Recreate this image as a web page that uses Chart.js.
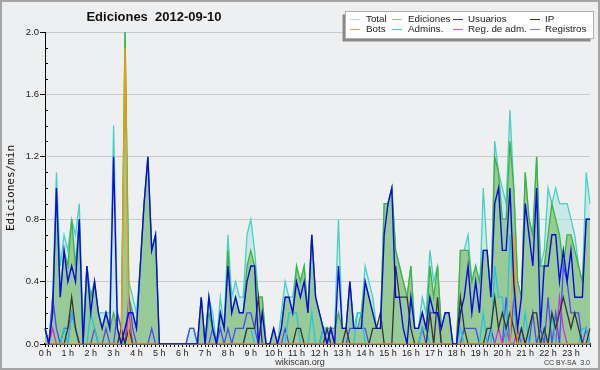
<!DOCTYPE html>
<html>
<head>
<meta charset="utf-8">
<script src="https://cdn.jsdelivr.net/npm/chart.js@4.4.1/dist/chart.umd.min.js"></script>
<style>
html,body{margin:0;padding:0;background:#eeeff1;}
canvas{display:block;}
</style>
</head>
<body>
<canvas id="c" width="600" height="370"></canvas>
<script>
// Hour tick labels (one slot every 10 minutes, 6 slots per hour)
const HOURS = ["0 h","1 h","2 h","3 h","4 h","5 h","6 h","7 h","8 h","9 h","10 h","11 h",
               "12 h","13 h","14 h","15 h","16 h","17 h","18 h","19 h","20 h","21 h","22 h","23 h"];

// Series values (edits/min), rows = hours, 6 values per hour
const total = [
 0.1,0.0,0.3,1.1,0.5,0.7,  0.6,0.8,0.7,0.9,0.1,0.5,  0.3,0.4,0.2,0.2,0.2,0.2,  1.4,0.2,0.1,2.0,0.4,0.3,
 0.2,0.5,0.9,1.2,0.6,0.7,  0,0,0,0,0,0,              0,0,0.1,0.1,0,0.3,        0,0.3,0.2,0,0.3,0.1,
 0.7,0.3,0.4,0.3,0.3,0.7,  0.8,0.6,0.3,0.3,0,0,      0.1,0,0.2,0.4,0.3,0.3,    0.5,0.4,0.5,0.2,0.7,0.3,
 0.2,0.1,0.1,0.1,0.1,0.8,  0.1,0.1,0.4,0.1,0.2,0.2,  0.5,0.4,0.3,0.1,0.1,0.9,  0.9,1.0,0.6,0.5,0.4,0.3,
 0.5,0.1,0.1,0.3,0.2,0.6,  0.4,0.5,0.1,0.2,0.2,0,    0,0.6,0.6,0.7,0.4,0.5,    0.3,1.0,0.6,0.3,1.3,1.1,
 1.0,0.9,1.5,1.0,0.4,0.3,  1.1,0.8,0.7,1.2,0.5,0.6,  1.0,0.9,1.0,0.9,0.9,0.9,  0.8,0.7,0.5,0.4,1.1,0.9
];
const ediciones = [
 0.1,0,0.2,1.0,0.3,0.6,    0.5,0.8,0.5,0.8,0,0.5,    0.3,0.4,0.2,0.1,0.2,0.1,  0.2,0.1,0,2.0,0.3,0.2,
 0.1,0.5,0.9,1.2,0.6,0.7,  0,0,0,0,0,0,              0,0,0,0,0,0.3,            0,0.2,0.1,0,0.2,0.1,
 0.6,0.2,0.3,0.2,0.2,0.5,  0.6,0.5,0.3,0.3,0,0,      0.1,0,0.1,0.3,0.3,0.2,    0.5,0.4,0.5,0.2,0.7,0.3,
 0.2,0.1,0.1,0.1,0.1,0.2,  0.1,0.1,0.4,0.1,0.1,0.2,  0.4,0.3,0.2,0.1,0.1,0.9,  0.9,1.0,0.6,0.5,0.4,0.3,
 0.5,0.1,0.1,0.2,0.1,0.5,  0.3,0.5,0.1,0.2,0.2,0,    0,0.6,0.6,0.6,0.4,0.5,    0.4,0.6,0.6,0.3,1.2,1.1,
 0.8,0.8,1.3,1.0,0.4,0.3,  1.1,0.8,0.7,1.2,0.5,0.5,  0.7,0.9,0.8,0.7,0.5,0.7,  0.7,0.6,0.5,0.4,0.8,0.8
];
const usuarios = [
 0.1,0,0.2,1.0,0.3,0.6,    0.4,0.5,0.4,0.8,0,0.5,    0.2,0.4,0.2,0.1,0.2,0.1,  1.2,0.1,0,0.1,0.2,0.2,
 0.1,0.5,0.9,1.2,0.6,0.7,  0,0,0,0,0,0,              0,0,0,0,0,0.3,            0,0.3,0.1,0,0.2,0.1,
 0.5,0.2,0.3,0.2,0.2,0.4,  0.5,0.5,0,0.2,0,0,        0.1,0,0.1,0.3,0.3,0.2,    0.4,0.3,0.4,0.2,0.7,0.3,
 0.2,0.1,0,0.1,0,0.5,      0.1,0.1,0.4,0.1,0.1,0.1,  0.4,0.3,0.2,0.1,0.1,0.7,  0.9,1.0,0.3,0.3,0.1,0,
 0.3,0.1,0.1,0.2,0.1,0.3,  0.2,0.2,0.1,0.2,0.2,0,    0,0.2,0.3,0.5,0.2,0.4,    0.2,0.6,0.6,0.3,0.9,1.0,
 0.6,0.6,1.0,0.4,0.1,0.3,  0.9,0.7,0.5,1.0,0.1,0.5,  0.5,0.7,0.7,0.4,0.6,0.4,  0.6,0.3,0.3,0.3,0.8,0.8
];
const ip = [
 0,0,0,0,0,0,  0.1,0.3,0.1,0,0,0,  0,0,0,0,0,0,  0,0,0.1,0,0.1,0,
 0,0,0,0,0,0,  0,0,0,0,0,0,        0,0,0,0,0,0,  0,0,0,0,0,0,
 0,0,0,0,0,0.1,  0.1,0.1,0.3,0,0,0,  0,0,0,0,0,0,  0.1,0.1,0,0,0,0,
 0,0,0.1,0,0,0,  0,0.1,0,0,0,0,  0,0,0.1,0.1,0.2,0,  0,0,0.5,0.3,0.3,0.3,
 0.1,0,0,0,0,0.2,  0,0.3,0,0,0,0,  0,0.3,0.1,0,0,0,  0,0,0.1,0.1,0.3,0.1,
 0.2,0.1,0.2,0.1,0,0.1,  0,0.1,0.2,0.2,0,0.1,  0,0.2,0.1,0.2,0.3,0.2,  0.1,0.2,0.1,0,0,0.1
];
const bots = [
 0,0,0,0,0,0,  0,0,0,0,0,0,  0,0,0,0,0,0,  0,0,0,1.9,0,0,
 0,0,0,0,0,0,  0,0,0,0,0,0,  0,0,0,0,0,0,  0,0,0,0,0,0,
 0,0,0,0,0,0,  0,0,0,0,0,0,  0,0,0,0,0,0,  0,0,0,0,0,0,
 0,0,0,0,0,0,  0,0,0,0,0,0,  0,0,0,0,0,0,  0,0,0,0,0,0,
 0,0,0,0,0,0,  0,0,0,0,0,0,  0,0,0,0,0,0,  0,0,0,0,0,0,
 0,0,0,0.7,0,0,  0,0,0,0,0,0,  0,0,0,0,0,0,  0,0,0,0,0,0
];
const admins = [
 0,0,0,0,0,0.1,  0,0.2,0.1,0,0,0,  0.2,0.1,0,0,0,0,  0,0,0,0,0,0,
 0,0,0,0,0,0,  0,0,0,0,0,0,  0,0,0,0,0,0,  0,0.3,0.1,0,0,0,
 0,0,0,0,0,0.1,  0.1,0,0,0,0,0,  0,0,0,0,0.2,0.2,  0.2,0,0,0,0.2,0,
 0,0.1,0.1,0,0,0,  0,0,0,0,0.2,0.2,  0,0,0,0,0,0,  0,0,0,0,0,0,
 0,0,0,0.1,0.1,0,  0,0,0,0,0,0,  0,0.1,0,0,0,0,  0,0.2,0,0,0.5,0.3,
 0.3,0,0.7,0.3,0,0,  0.2,0,0,0,0,0.1,  0,0.2,0,0,0,0,  0,0,0,0.1,0.1,0
];
const regAdm = [
 0,0,0.1,0,0,0,  0,0.2,0.1,0,0,0,  0,0,0,0,0,0,  0,0,0,0,0.2,0,
 0,0,0,0,0,0,  0,0,0,0,0,0,  0,0,0,0,0,0,  0,0,0,0,0,0,
 0,0,0,0,0,0,  0,0,0,0,0,0,  0,0,0,0,0,0,  0,0,0,0,0,0,
 0,0,0,0,0,0,  0,0,0,0,0,0,  0,0,0,0,0,0,  0,0,0,0,0,0,
 0,0,0,0,0,0,  0,0,0,0,0,0,  0,0,0,0,0,0,  0,0,0,0,0,0.1,
 0,0.1,0,0,0.1,0,  0,0,0,0,0,0,  0,0,0,0.3,0.1,0,  0,0,0,0,0,0
];
const registros = [
 0.1,0,0.3,0.1,0,0.1,  0.1,0.2,0.1,0,0,0,  0,0.1,0,0,0.1,0,  0,0.2,0.1,0,0.3,0.1,
 0,0,0,0,0.1,0,  0,0,0,0,0,0,  0,0,0.1,0.1,0,0,  0,0,0.1,0,0.1,0,
 0.1,0,0.1,0.1,0.1,0.2,  0.2,0.1,0,0,0,0,  0,0,0,0.1,0,0,  0,0,0,0,0,0,
 0,0.1,0,0.1,0,0,  0,0,0.1,0.1,0.1,0.1,  0.1,0,0,0,0,0,  0,0,0,0,0,0,
 0,0,0,0.1,0,0.2,  0.2,0.2,0,0,0,0,  0,0,0.1,0.1,0.1,0.1,  0,0,0,0.1,0,0,
 0,0.3,0,0.3,0,0.1,  0,0,0.2,0,0.1,0,  0.3,0,0.2,0,0.5,0.4,  0.2,0.2,0.2,0,0.1,0
];

// Category slots: one per 10 minutes
const SLOTS = [];
HOURS.forEach(h => { for (let k = 0; k < 6; k++) SLOTS.push(h + (k ? ' ' + k + '0' : '')); });

const COLORS = {
  total: '#46d0c6', totalFill: 'rgba(178,226,226,0.6)',
  ediciones: '#3cb43c', edFill: '#98ca98',
  usuarios: '#0a0ae0', ip: '#333333', bots: '#ff9900',
  admins: '#22c6dc', regAdm: '#cc33cc', registros: '#4a4af2'
};
const LEGEND_SWATCH = {
  total: '#a6e2de', ediciones: '#8fd08f', usuarios: '#3a3ad8', ip: '#333333',
  bots: '#f5a040', admins: '#44c8dc', regAdm: '#cc55dd', registros: '#7a7ae6'
};

const bgPlugin = {
  id: 'bg',
  beforeDraw(chart) {
    const ctx = chart.ctx;
    ctx.save();
    ctx.fillStyle = '#eeeff1';
    ctx.fillRect(0, 0, chart.width, chart.height);
    ctx.strokeStyle = '#a4a4a4';
    ctx.lineWidth = 2;
    ctx.strokeRect(1, 1, chart.width - 2, chart.height - 2);
    ctx.restore();
  }
};

const LEGEND_ITEMS = [
  ['Total', LEGEND_SWATCH.total], ['Ediciones', LEGEND_SWATCH.ediciones], ['Usuarios', LEGEND_SWATCH.usuarios], ['IP', LEGEND_SWATCH.ip],
  ['Bots', LEGEND_SWATCH.bots], ['Admins.', LEGEND_SWATCH.admins], ['Reg. de adm.', LEGEND_SWATCH.regAdm], ['Registros', LEGEND_SWATCH.registros]
];

const decorPlugin = {
  id: 'decor',
  afterDraw(chart) {
    const ctx = chart.ctx;
    const ys = chart.scales.y, area = chart.chartArea;
    ctx.save();
    // minor ticks on the y axis (inside the plot)
    ctx.strokeStyle = '#000';
    ctx.lineWidth = 1;
    ctx.beginPath();
    ys.ticks.forEach(t => {
      if (Math.round(t.value * 10) % 4 !== 0) {
        const y = Math.round(ys.getPixelForValue(t.value)) + 0.5;
        ctx.moveTo(area.left, y);
        ctx.lineTo(area.left + 3, y);
      }
    });
    ctx.stroke();
    // title
    ctx.fillStyle = '#111';
    ctx.font = 'bold 13px "Liberation Sans", Arial, sans-serif';
    ctx.textAlign = 'center';
    ctx.textBaseline = 'alphabetic';
    ctx.fillText('Ediciones  2012-09-10', 154, 21);
    // legend box with shadow
    ctx.fillStyle = '#8a8a8a';
    ctx.fillRect(342.5, 14.5, 248, 27);
    ctx.fillStyle = '#ffffff';
    ctx.fillRect(345.5, 11.5, 248, 27);
    ctx.strokeStyle = '#b0b0b0';
    ctx.lineWidth = 1;
    ctx.strokeRect(345.5, 11.5, 248, 27);
    const colSw = [350, 392, 453, 530];
    const colTx = [366, 408, 468, 545];
    const rowY = [19, 29];
    ctx.font = '9.8px "Liberation Sans", Arial, sans-serif';
    ctx.textAlign = 'left';
    ctx.textBaseline = 'middle';
    LEGEND_ITEMS.forEach((it, k) => {
      const c = k % 4, r = Math.floor(k / 4);
      ctx.strokeStyle = it[1];
      ctx.lineWidth = 1;
      ctx.beginPath();
      ctx.moveTo(colSw[c], rowY[r] + 0.5);
      ctx.lineTo(colSw[c] + 10, rowY[r] + 0.5);
      ctx.stroke();
      ctx.fillStyle = '#222';
      ctx.fillText(it[0], colTx[c], rowY[r]);
    });
    // footer
    ctx.textBaseline = 'alphabetic';
    ctx.fillStyle = '#333';
    ctx.font = '9px "Liberation Sans", Arial, sans-serif';
    ctx.textAlign = 'center';
    ctx.fillText('wikiscan.org', 300, 365);
    ctx.font = '7px "Liberation Sans", Arial, sans-serif';
    ctx.textAlign = 'right';
    ctx.fillText('CC BY-SA  3.0', 590, 365);
    ctx.restore();
  }
};

function ds(label, data, color, order, extra) {
  return Object.assign({
    label, data, borderColor: color, backgroundColor: color,
    borderWidth: 1.3, pointRadius: 0, tension: 0, fill: false, order
  }, extra || {});
}

new Chart(document.getElementById('c'), {
  type: 'line',
  data: {
    labels: SLOTS,
    datasets: [
      ds('Total', total, COLORS.total, 10, { fill: 'origin', backgroundColor: COLORS.totalFill }),
      ds('Ediciones', ediciones, COLORS.ediciones, 9, { fill: 'origin', backgroundColor: COLORS.edFill }),
      ds('Registros', registros, COLORS.registros, 7),
      ds('Reg. de adm.', regAdm, COLORS.regAdm, 6),
      ds('Admins.', admins, COLORS.admins, 5),
      ds('IP', ip, COLORS.ip, 4),
      ds('Bots', bots, COLORS.bots, 3),
      ds('Usuarios', usuarios, COLORS.usuarios, 2, { borderWidth: 1.4 })
    ]
  },
  options: {
    responsive: false,
    animation: false,
    devicePixelRatio: 1,
    layout: { padding: { top: 32, right: 10, left: 0, bottom: 0 } },
    plugins: { legend: { display: false }, tooltip: { enabled: false }, title: { display: false } },
    scales: {
      x: {
        type: 'category',
        offset: false,
        grid: { drawOnChartArea: false, drawTicks: true, tickLength: 3, tickColor: '#000', tickWidth: 1 },
        border: { color: '#000', width: 1.5 },
        ticks: {
          autoSkip: false, maxRotation: 0, minRotation: 0, padding: 1,
          font: { family: '"Liberation Sans", Arial, sans-serif', size: 9 }, color: '#222',
          callback: (v, i) => (i % 6 === 0 ? HOURS[i / 6] : '')
        },
        afterFit: s => { s.height = 26; }
      },
      y: {
        min: 0, max: 2.0,
        ticks: {
          stepSize: 0.1, padding: 1,
          font: { family: '"Liberation Sans", Arial, sans-serif', size: 9.5 }, color: '#222',
          callback: v => (Math.round(v * 10) % 4 === 0 ? v.toFixed(1) : '')
        },
        grid: {
          color: c => (Math.round(c.tick.value * 10) % 4 === 0 ? '#c9c9c9' : 'rgba(0,0,0,0)'),
          tickColor: c => (Math.round(c.tick.value * 10) % 4 === 0 ? '#000' : 'rgba(0,0,0,0)'),
          tickLength: 5, lineWidth: 1
        },
        border: { color: '#000', width: 1 },
        title: { display: true, text: 'Ediciones/min', font: { family: '"DejaVu Sans Mono", monospace', size: 11 }, color: '#111', padding: { top: 5, bottom: 0 } },
        afterFit: s => { s.width = 45; }
      }
    }
  },
  plugins: [bgPlugin, decorPlugin]
});
</script>
</body>
</html>
